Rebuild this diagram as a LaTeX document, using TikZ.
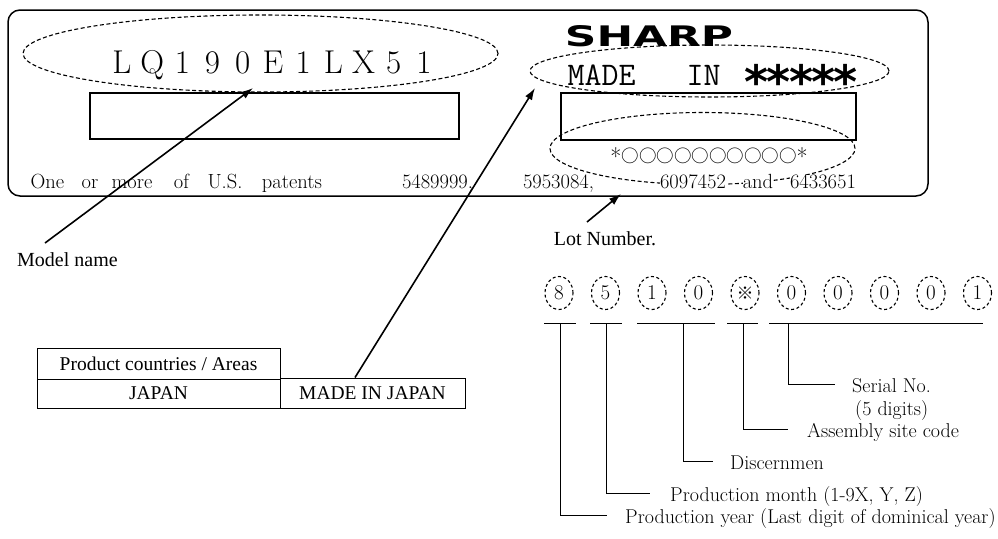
\documentclass[tikz,border=0pt]{standalone}
\usepackage{fontspec}
\usepackage{graphicx}
\usetikzlibrary{arrows.meta,shapes.geometric,calc}
\newfontfamily\timesf{Liberation Serif}
\newfontfamily\dejavu{DejaVu Sans}
\newfontfamily\cjkf{Noto Sans CJK JP}
\makeatletter
\def\pitchbox#1#2{\def\pb@w{#1}\pb@loop#2\relax}
\def\pb@loop#1{\ifx#1\relax\else\makebox[\pb@w]{#1}\expandafter\pb@loop\fi}
\makeatother
\begin{document}
\begin{tikzpicture}[x=1pt,y=-1pt,
  dsh/.style={draw, ellipse, dash pattern=on 4pt off 2.5pt, line width=1.1pt, inner sep=0pt},
  arr/.style={line width=1.6pt, -{Latex[length=12pt,width=8pt]}},
  box/.style={draw, rectangle, line width=1.2pt, inner sep=0pt},
  cell/.style={draw, rectangle, line width=1pt, inner sep=0pt, font=\timesf\fontsize{19.5}{19.5}\selectfont},
  lab/.style={anchor=west, inner sep=0pt, text height=17pt, text depth=0pt, font=\fontsize{20}{20}\selectfont},
  pat/.style={anchor=base, inner sep=0.3pt, fill=white, text height=13pt, text depth=2pt, font=\fontsize{20.5}{20.5}\selectfont},
  dig/.style={ellipse, draw, dash pattern=on 3pt off 2.5pt, line width=1.1pt, minimum width=28pt, minimum height=33pt, inner sep=0pt, font=\fontsize{21}{21}\selectfont},
  conn/.style={line width=1pt},
  serif/.style={inner sep=0pt, font=\timesf\fontsize{20}{20}\selectfont}
]
\useasboundingbox (0,0) rectangle (998,538);
% label frame
\node[draw, line width=1.5pt, rounded corners=12pt, minimum width=920pt, minimum height=186pt, inner sep=0pt] (frame) at (468,103) {};
% model name area
\node[dsh, minimum width=475pt, minimum height=77pt] (e1) at (260.5,53.5) {};
\node[anchor=base, inner sep=0pt, font=\fontsize{33}{33}\selectfont] (model) at (273,73) {\pitchbox{30.2pt}{LQ190E1LX51}};
\node[box, minimum width=369pt, minimum height=46pt] (r1) at (274.5,116) {};
% right area
\node[inner sep=0pt] (logo) at (649,36) {\resizebox{168pt}{21pt}{\dejavu\bfseries SHARP}};
\node[dsh, minimum width=359pt, minimum height=52pt] (e2) at (709.5,71) {};
\node[anchor=base, inner sep=0pt, font=\ttfamily\fontsize{33}{33}\selectfont] (made) at (601.5,85) {MADE};
\node[anchor=base, inner sep=0pt, font=\ttfamily\fontsize{33}{33}\selectfont] (madein) at (703.5,85) {IN};
\node[anchor=base, inner sep=0pt, font=\dejavu\bfseries\fontsize{46}{46}\selectfont] (stars) at (801,98) {\pitchbox{22.4pt}{*****}};
\node[box, minimum width=295pt, minimum height=47pt] (r2) at (708.5,116.5) {};
\node[dsh, minimum width=305pt, minimum height=72pt] (e3) at (702.5,148.5) {};
\node[anchor=base, inner sep=0pt, text height=15pt, text depth=0pt] (lotcode) at (709,162) {\raisebox{-3pt}{\fontsize{24}{24}\selectfont *}{\cjkf\fontsize{17.5}{17.5}\selectfont\pitchbox{17.5pt}{○○○○○○○○○○}}\raisebox{-3pt}{\fontsize{24}{24}\selectfont *}};
% patents row
\node[pat] (p1) at (47.5,188) {One};
\node[pat] (p2) at (90,188) {or};
\node[pat] (p3) at (132,188) {more};
\node[pat] (p4) at (181.5,188) {of};
\node[pat] (p5) at (225,188) {U.S.};
\node[pat] (p6) at (292,188) {patents};
\node[pat] (p7) at (437.5,188) {5489999,};
\node[pat] (p8) at (558.5,188) {5953084,};
\node[pat] (p9) at (693,188) {6097452};
\node[pat] (p10) at (758,188) {and};
\node[pat] (p11) at (823,188) {6433651};
% captions
\node[serif, anchor=base west] (mname) at (17,266) {Model name};
\node[serif, anchor=base] (lotn) at (605,245) {Lot Number.};
% table
\node[cell, minimum width=243pt, minimum height=31pt] (t1) at (158.5,363.5) {Product countries / Areas};
\node[cell, minimum width=243pt, minimum height=29pt] (t2) at (158.5,393.5) {JAPAN};
\node[cell, minimum width=185pt, minimum height=30pt] (t3) at (372.5,393) {MADE IN JAPAN};
% arrows
\coordinate (a1s) at (45,243);
\coordinate (a1e) at (253,88);
\coordinate (a2e) at (535,88);
\coordinate (a3s) at (587,222);
\coordinate (a3e) at (621,194);
\draw[arr] (a1s) -- (a1e);
\draw[arr] ([xshift=-17.5pt]t3.north) -- (a2e);
\draw[arr] (a3s) -- (a3e);
% lot number digits
\foreach \c [count=\i] in {8,5,1,0,{\cjkf\fontsize{17}{17}\selectfont ※},0,0,0,0,1}
  \node[dig] (d\i) at ({559+46.5*(\i-1)},293) {\c};
% underlines
\draw[conn] (544,323) -- (576,323);
\draw[conn] (590,323) -- (622,323);
\draw[conn] (637,323) -- (715,323);
\draw[conn] (727,323) -- (758,323);
\draw[conn] (769,323) -- (983,323);
\coordinate (s1) at (560,323);
\coordinate (s2) at (606,323);
\coordinate (s3) at (683,323);
\coordinate (s4) at (743,323);
\coordinate (s5) at (788,323);
% labels
\node[lab] (l1) at (625,515) {Production year (Last digit of dominical year)};
\node[lab] (l2) at (670,493) {Production month (1-9X, Y, Z)};
\node[lab] (l3) at (730,461) {Discernmen};
\node[lab] (l4) at (807,429) {Assembly site code};
\node[lab] (l5) at (852,384) {Serial No.};
\node[lab] (l5b) at (855,407) {(5 digits)};
\draw[conn] (s1) |- ([xshift=-18pt]l1.west);
\draw[conn] (s2) |- ([xshift=-20pt]l2.west);
\draw[conn] (s3) |- ([xshift=-17pt]l3.west);
\draw[conn] (s4) |- ([xshift=-19pt]l4.west);
\draw[conn] (s5) |- ([xshift=-17pt]l5.west);
\end{tikzpicture}
\end{document}
